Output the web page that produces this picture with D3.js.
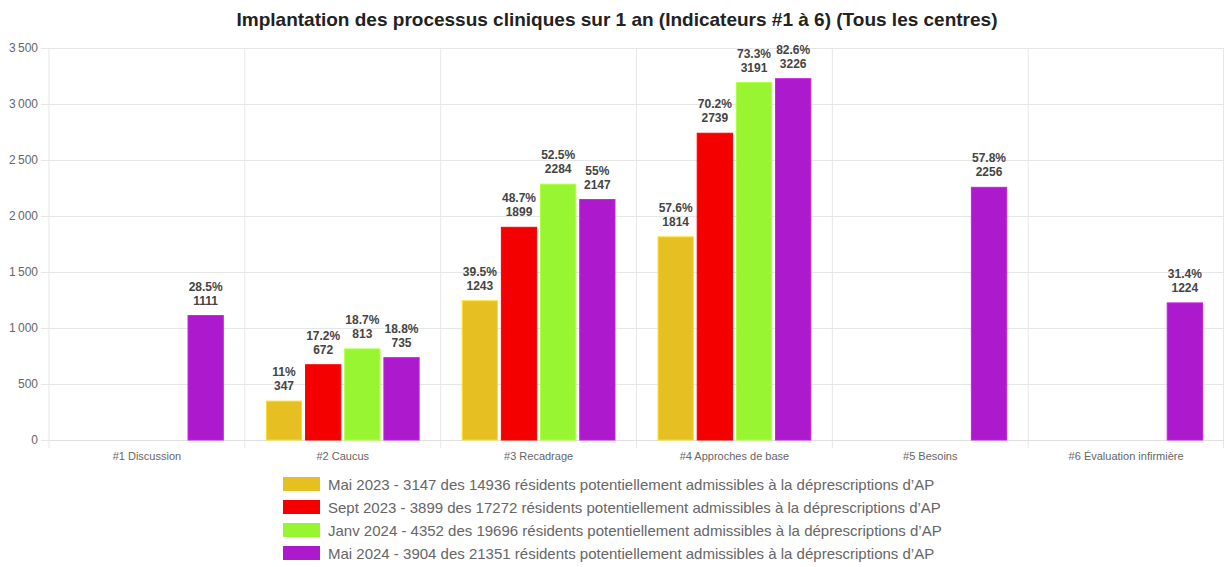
<!DOCTYPE html>
<html>
<head>
<meta charset="utf-8">
<script src="https://cdn.jsdelivr.net/npm/d3@7"></script>
<style>
  html, body { margin: 0; padding: 0; background: #fff; }
  svg { display: block; font-family: "Liberation Sans", Arial, Helvetica, sans-serif; }
</style>
</head>
<body>
<svg id="chart" width="1224" height="567"></svg>
<script>
// Indicator categories
const categories = ["#1 Discussion", "#2 Caucus", "#3 Recadrage", "#4 Approches de base", "#5 Besoins", "#6 Évaluation infirmière"];

// Series (one per survey period): counts and percentages per indicator
const seriesNames = [
  "Mai 2023 - 3147 des 14936 résidents potentiellement admissibles à la déprescriptions d’AP",
  "Sept 2023 - 3899 des 17272 résidents potentiellement admissibles à la déprescriptions d’AP",
  "Janv 2024 - 4352 des 19696 résidents potentiellement admissibles à la déprescriptions d’AP",
  "Mai 2024 - 3904 des 21351 résidents potentiellement admissibles à la déprescriptions d’AP"
];
const mai2023 = [null, 347, 1243, 1814, null, null];
const sept2023 = [null, 672, 1899, 2739, null, null];
const janv2024 = [null, 813, 2284, 3191, null, null];
const mai2024 = [1111, 735, 2147, 3226, 2256, 1224];

const mai2023Pct = [null, "11%", "39.5%", "57.6%", null, null];
const sept2023Pct = [null, "17.2%", "48.7%", "70.2%", null, null];
const janv2024Pct = [null, "18.7%", "52.5%", "73.3%", null, null];
const mai2024Pct = ["28.5%", "18.8%", "55%", "82.6%", "57.8%", "31.4%"];

const yTicks = [0, 500, 1000, 1500, 2000, 2500, 3000, 3500];
const colors = ["#e6c022", "#f50000", "#98f532", "#ad19cd"];

const seriesValues = [mai2023, sept2023, janv2024, mai2024];
const seriesPct = [mai2023Pct, sept2023Pct, janv2024Pct, mai2024Pct];

const svg = d3.select("#chart");
const W = 1224, H = 567;
const margin = { left: 49, right: 0, top: 48, bottom: 127 };
const plotW = W - margin.left - margin.right;
const plotH = H - margin.top - margin.bottom;

const x = d3.scaleBand().domain(categories).range([margin.left, margin.left + plotW]).paddingInner(0).paddingOuter(0);
const x1 = d3.scaleBand().domain(d3.range(seriesValues.length))
  .range([x.bandwidth() * 0.1, x.bandwidth() * 0.9]).paddingInner(0.1).paddingOuter(0.05);
const y = d3.scaleLinear().domain([0, 3500]).range([margin.top + plotH, margin.top]);

const fmt = v => d3.format(",")(v).replace(/,/g, "\u202F");

// Title
svg.append("text")
  .attr("x", 617).attr("y", 26)
  .attr("text-anchor", "middle")
  .attr("font-size", 19).attr("font-weight", "bold").attr("fill", "#222")
  .text("Implantation des processus cliniques sur 1 an (Indicateurs #1 à 6) (Tous les centres)");

// Horizontal gridlines + y axis
const yAxis = d3.axisLeft(y).tickValues(yTicks).tickFormat(fmt).tickSize(plotW + 8).tickPadding(3);
const gy = svg.append("g").attr("transform", `translate(${margin.left + plotW},0)`).call(yAxis);
gy.select(".domain").remove();
gy.selectAll(".tick line").attr("stroke", "#e6e6e6");
gy.selectAll(".tick text").attr("fill", "#666").attr("font-size", 12)
  .attr("font-family", "Liberation Sans, Arial, sans-serif");

// Vertical category gridlines (boundaries)
const bounds = categories.map(c => x(c)).concat([margin.left + plotW]);
svg.append("g").selectAll("line").data(bounds).join("line")
  .attr("x1", d => Math.min(d, W - 0.5)).attr("x2", d => Math.min(d, W - 0.5))
  .attr("y1", margin.top).attr("y2", margin.top + plotH + 8)
  .attr("stroke", "#e6e6e6");

// x axis labels
const xAxis = d3.axisBottom(x).tickSize(0).tickPadding(12);
const gx = svg.append("g").attr("transform", `translate(0,${margin.top + plotH})`).call(xAxis);
gx.select(".domain").attr("stroke", "#e0e0e0");
gx.selectAll(".tick text").attr("fill", "#666").attr("font-size", 11)
  .attr("font-family", "Liberation Sans, Arial, sans-serif");

// Bars
const barData = [];
seriesValues.forEach((vals, s) => {
  vals.forEach((v, i) => {
    if (v != null) barData.push({ s, cat: categories[i], v, pct: seriesPct[s][i] });
  });
});

const bars = svg.append("g");
bars.selectAll("rect").data(barData).join("rect")
  .attr("x", d => x(d.cat) + x1(d.s))
  .attr("y", d => y(d.v))
  .attr("width", x1.bandwidth())
  .attr("height", d => y(0) - y(d.v))
  .attr("fill", d => colors[d.s])
  .attr("stroke", d => d3.color(colors[d.s]).brighter(0.4))
  .attr("stroke-width", 1);

// Value labels: percentage on first line, count on second
const labels = svg.append("g").attr("font-size", 12).attr("font-weight", "bold").attr("fill", "#444")
  .attr("text-anchor", "middle");
labels.selectAll("text.pct").data(barData).join("text").attr("class", "pct")
  .attr("x", d => x(d.cat) + x1(d.s) + x1.bandwidth() / 2)
  .attr("y", d => y(d.v) - 25)
  .text(d => d.pct);
labels.selectAll("text.val").data(barData).join("text").attr("class", "val")
  .attr("x", d => x(d.cat) + x1(d.s) + x1.bandwidth() / 2)
  .attr("y", d => y(d.v) - 11)
  .text(d => d.v);

// Legend
const legend = svg.append("g").attr("transform", "translate(283,477)");
const item = legend.selectAll("g").data(seriesNames).join("g")
  .attr("transform", (d, i) => `translate(0,${i * 23})`);
item.append("rect").attr("width", 37).attr("height", 14)
  .attr("fill", (d, i) => colors[i]);
item.append("text").attr("x", 45).attr("y", 12.5)
  .attr("font-size", 15).attr("fill", "#666").text(d => d);
</script>
</body>
</html>
